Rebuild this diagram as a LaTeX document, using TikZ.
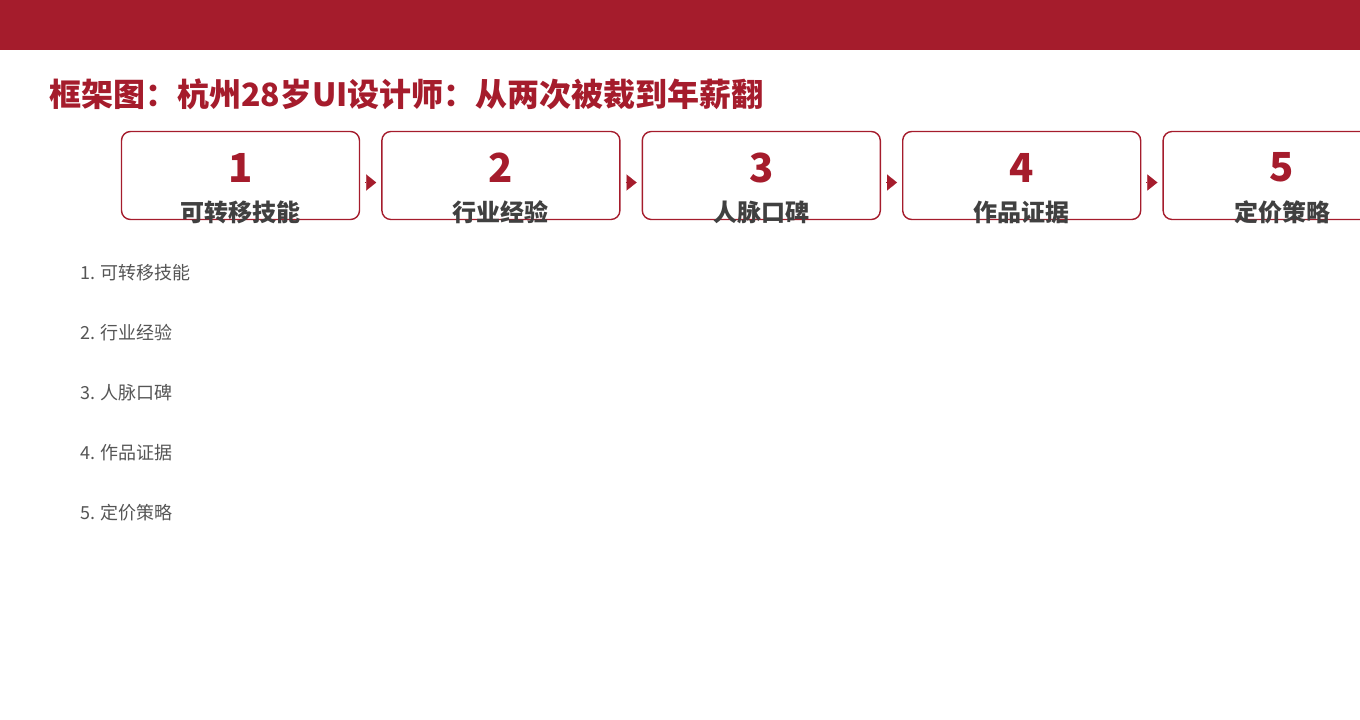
\documentclass[tikz,border=0pt]{standalone}
\usepackage{fontspec}
\setmainfont{Noto Sans CJK SC}
\usetikzlibrary{arrows.meta,positioning}
\definecolor{darkred}{RGB}{165,28,44}
\definecolor{labelgray}{RGB}{64,64,64}
\definecolor{listgray}{RGB}{85,85,85}

\begin{document}
\begin{tikzpicture}[x=1pt,y=-1pt,node distance=21pt,
    stage/.style={draw=darkred,line width=1.4pt,rounded corners=9pt,minimum width=238pt,minimum height=88pt,inner sep=0pt},
    num/.style={font=\fontsize{40}{40}\selectfont\bfseries,text=darkred,inner sep=0pt},
    lbl/.style={font=\fontsize{24}{24}\selectfont\bfseries,text=labelgray,inner sep=0pt},
    item/.style={font=\fontsize{18}{18}\selectfont,text=listgray,anchor=west,inner sep=0pt},
    link/.style={darkred,line width=0.1pt,-{Triangle[length=10pt,width=16pt]},shorten <=5pt,shorten >=5pt}]
    \useasboundingbox (0,0) rectangle (1360,720);
    \clip (0,0) rectangle (1360,720);
    \fill[darkred] (0,0) rectangle (1360,50);
    \node[anchor=west,inner sep=0pt,font=\fontsize{32}{32}\selectfont\bfseries,text=darkred] (title) at (49,94) {框架图：杭州28岁UI设计师：从两次被裁到年薪翻};

    % stages
    \node[stage] (skill) at (240.5,175.5) {};
    \node[stage,right=of skill] (industry) {};
    \node[stage,right=of industry] (network) {};
    \node[stage,right=of network] (works) {};
    \node[stage,right=of works] (pricing) {};

    \node[num] (n1) at ([yshift=8pt]skill.center) {1};
    \node[num] (n2) at ([yshift=8pt]industry.center) {2};
    \node[num] (n3) at ([yshift=8pt]network.center) {3};
    \node[num] (n4) at ([yshift=8pt]works.center) {4};
    \node[num] (n5) at ([yshift=8pt]pricing.center) {5};

    \node[lbl] (l1) at ([yshift=-37pt]skill.center) {可转移技能};
    \node[lbl] (l2) at ([yshift=-37pt]industry.center) {行业经验};
    \node[lbl] (l3) at ([yshift=-37pt]network.center) {人脉口碑};
    \node[lbl] (l4) at ([yshift=-37pt]works.center) {作品证据};
    \node[lbl] (l5) at ([yshift=-37pt]pricing.center) {定价策略};

    \draw[link] ([yshift=-7pt]skill.east)--([yshift=-7pt]industry.west);
    \draw[link] ([yshift=-7pt]industry.east)--([yshift=-7pt]network.west);
    \draw[link] ([yshift=-7pt]network.east)--([yshift=-7pt]works.west);
    \draw[link] ([yshift=-7pt]works.east)--([yshift=-7pt]pricing.west);

    % list
    \node[item] (i1) at (80,273) {1. 可转移技能};
    \node[item] (i2) at (80,333) {2. 行业经验};
    \node[item] (i3) at (80,393) {3. 人脉口碑};
    \node[item] (i4) at (80,453) {4. 作品证据};
    \node[item] (i5) at (80,513) {5. 定价策略};
  \end{tikzpicture}
\end{document}
